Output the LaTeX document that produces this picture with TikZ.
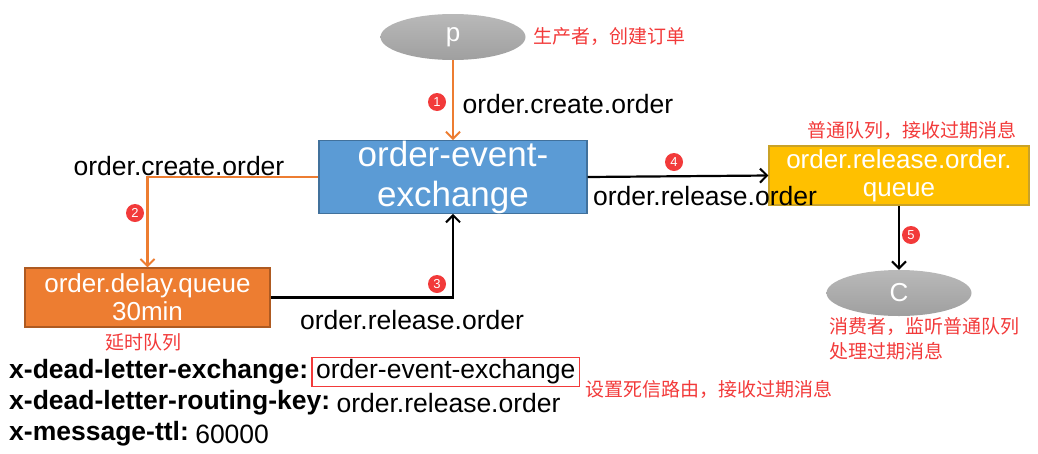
\documentclass[tikz,border=0pt]{standalone}
\usepackage{fontspec}
\setmainfont{Liberation Sans}
\newfontfamily\cjk{Noto Sans CJK SC}
\usetikzlibrary{positioning, arrows.meta, shapes.geometric}
\definecolor{exblue}{HTML}{5B9BD5}
\definecolor{exblueline}{HTML}{41719C}
\definecolor{delayorange}{HTML}{ED7D31}
\definecolor{delayline}{HTML}{AE5A21}
\definecolor{queueyellow}{HTML}{FFC000}
\definecolor{queueline}{HTML}{C9A227}
\definecolor{notered}{HTML}{F23A3A}
\tikzset{
    box/.style={ % rectangles for exchange and queues
        draw, line width=1.2pt,
        text=white, align=center, inner sep=0pt,
        font=\fontsize{26}{28}\selectfont
    },
    client/.style={ % producer and consumer ellipses
        ellipse, inner sep=0pt,
        minimum width=145pt, minimum height=46pt,
        top color=gray!55, bottom color=gray!75,
        text=white, font=\fontsize{26}{28}\selectfont
    },
    badge/.style={ % numbered red dots
        circle, fill=notered, inner sep=0pt, minimum size=18pt,
        text=white, font=\fontsize{13}{13}\selectfont
    },
    flow/.style={ % connectors, with open arrow heads
        line width=2.2pt,
        -{Straight Barb[length=7pt,width=14pt,line width=2pt]}
    },
    orangeflow/.style={flow, draw=delayorange},
    key/.style={font=\fontsize{26.5}{30}\selectfont},
    note/.style={text=notered, font=\cjk\fontsize{19}{25}\selectfont},
    arg/.style={font=\bfseries\fontsize{26.5}{30}\selectfont, inner sep=0pt}
}
\begin{document}
\begin{tikzpicture}[x=1pt, y=-1pt]
    \useasboundingbox (0,0) rectangle (1038,453);
    % producer
    \node[client]                     (p)        at (453,37)   {p};
    \node[note, anchor=west]          (pnote)    at (530,37)   {生产者，创建订单};
    % exchange
    \node[box, fill=exblue, draw=exblueline, minimum width=268pt, minimum height=72pt,
          font=\fontsize{35}{40}\selectfont]
                                      (exchange) at (453,177)  {order-event-\\exchange};
    % delay queue
    \node[box, fill=delayorange, draw=delayline, minimum width=245pt, minimum height=59pt]
                                      (delay)    at (147.5,297.5) {order.delay.queue\\30min};
    \node[note]                       (dnote)    at (143,342)  {延时队列};
    % release queue
    \node[box, fill=queueyellow, draw=queueline, minimum width=260pt, minimum height=59pt]
                                      (release)  at (899,175.5) {order.release.order.\\queue};
    \node[note]                       (rnote)    at (912,130)  {普通队列，接收过期消息};
    % consumer
    \node[client]                     (c)        at (899,293)  {C};
    \node[note, anchor=north west, align=left]
                                      (cnote)    at (826,314)  {消费者，监听普通队列\\处理过期消息};

    % connectors
    \draw[orangeflow] (p) -- (exchange);
    \draw[orangeflow] (exchange.west) -| (delay);
    \draw[flow]       (delay.east) -| (exchange.south);
    \draw[flow]       (exchange.east) -- (release.west);
    \draw[flow]       (release.south) -- (c);

    % badges and routing keys
    \node[badge]                      (b1)       at (437,102)  {1};
    \node[key, anchor=west]           (k1)       at (459,104)  {order.create.order};
    \node[badge]                      (b2)       at (135,213)  {2};
    \node[key]                        (k2)       at (179,166)  {order.create.order};
    \node[badge]                      (b3)       at (437,284)  {3};
    \node[key]                        (k3)       at (412,320)  {order.release.order};
    \node[badge]                      (b4)       at (674,162)  {4};
    \node[key]                        (k4)       at (705,196)  {order.release.order};
    \node[badge]                      (b5)       at (911,235)  {5};

    % queue arguments
    \node[arg, anchor=west]           (dlx)      at (9,372)    {x-dead-letter-exchange:};
    \node[key, draw=notered, line width=1.6pt, inner xsep=4pt, inner ysep=2pt,
          right=3pt of dlx]           (dlxval)                 {order-event-exchange};
    \node[note, anchor=west]          (dlxnote)  at (582,389)  {设置死信路由，接收过期消息};
    \node[arg, anchor=west]           (dlk)      at (9,403)    {x-dead-letter-routing-key:};
    \node[key, anchor=west, inner sep=0pt, right=6pt of dlk]
                                      (dlkval)                 {order.release.order};
    \node[arg, anchor=west]           (ttl)      at (9,434)    {x-message-ttl:};
    \node[key, anchor=west, inner sep=0pt, right=6pt of ttl]
                                      (ttlval)                 {60000};
\end{tikzpicture}
\end{document}
